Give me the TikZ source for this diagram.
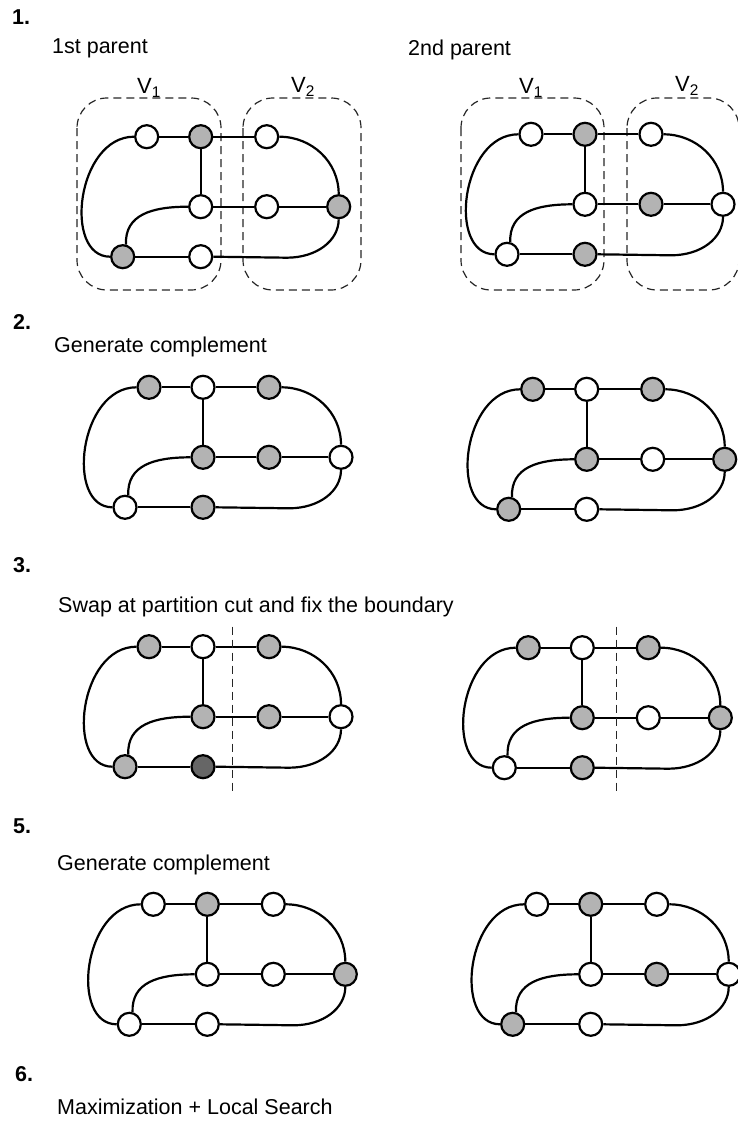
\documentclass[tikz,border=0pt]{standalone}
\usepackage{fontspec}
\setmainfont{Liberation Sans}
\definecolor{lgray}{HTML}{B3B3B3}
\definecolor{dgray}{HTML}{666666}
\tikzset{
  vx/.style={circle, draw=black, line width=2.2pt, minimum size=23pt, inner sep=0pt},
  wn/.style={vx, fill=white},
  gn/.style={vx, fill=lgray},
  dn/.style={vx, fill=dgray},
  edge/.style={line width=2.2pt, draw=black},
  dashbox/.style={dash pattern=on 8pt off 5pt, line width=1.2pt, draw=black!85, rounded corners=30pt},
  cutline/.style={dash pattern=on 8pt off 5pt, line width=1.3pt, draw=black!85},
  lbl/.style={anchor=west, inner sep=0pt, font=\fontsize{21.5}{25}\selectfont},
  num/.style={anchor=west, inner sep=0pt, font=\fontsize{21.5}{25}\selectfont\bfseries},
  vlbl/.style={inner sep=0pt, font=\fontsize{22}{25}\selectfont},
}
\newcommand\gfig[8]{%
  \node[#1] (a) at (0,0) {};
  \node[#2] (b) at (54,0) {};
  \node[#3] (c) at (120,0) {};
  \node[#4] (d) at (54,70) {};
  \node[#5] (e) at (120,70) {};
  \node[#6] (f) at (192,70) {};
  \node[#7] (g) at (-24,120) {};
  \node[#8] (h) at (54,120) {};
  \draw[edge] (a) -- (b);
  \draw[edge] (b) -- (c);
  \draw[edge] (b) -- (d);
  \draw[edge] (d) -- (e);
  \draw[edge] (e) -- (f);
  \draw[edge] (g) -- (h);
  \draw[edge] (a.west) .. controls (-70,0) and (-84,120) .. (g.west);
  \draw[edge] (d.west) .. controls (5,70) and (-22,78) .. (g.75);
  \draw[edge] (c.east) .. controls (165,0) and (192,25) .. (f.north);
  \draw[edge] (h.east) -- (140,121) .. controls (170,121) and (192,104) .. (f.south);
}
\begin{document}
\begin{tikzpicture}[x=1pt,y=-1pt]
\useasboundingbox (0,0) rectangle (738,1122);

% ---------- 1 ----------
\node[num] (n1) at (12,17) {1.};
\node[lbl] (t1a) at (52,48) {1st parent};
\node[lbl] (t1b) at (408,50) {2nd parent};
\draw[dashbox] (77,98) rectangle (221,290);
\draw[dashbox] (243,98) rectangle (361,290);
\node[vlbl] (v1a) at (149,88) {V\textsubscript{1}};
\node[vlbl] (v2a) at (303,87) {V\textsubscript{2}};
\draw[dashbox] (461,98) rectangle (604,290);
\draw[dashbox] (627,98) rectangle (739,290);
\node[vlbl] (v1b) at (531,88) {V\textsubscript{1}};
\node[vlbl] (v2b) at (687,86) {V\textsubscript{2}};
\begin{scope}[shift={(146.7,136.7)}, name prefix=p1l-]
  \gfig{wn}{gn}{wn}{wn}{wn}{gn}{gn}{wn}
\end{scope}
\begin{scope}[shift={(531,134.3)}, name prefix=p1r-]
  \gfig{wn}{gn}{wn}{wn}{gn}{wn}{wn}{gn}
\end{scope}

% ---------- 2 ----------
\node[num] (n2) at (13,322) {2.};
\node[lbl] (t2) at (54,347) {Generate complement};
\begin{scope}[shift={(149,387.3)}, name prefix=p2l-]
  \gfig{gn}{wn}{gn}{gn}{gn}{wn}{wn}{gn}
\end{scope}
\begin{scope}[shift={(532.7,389.3)}, name prefix=p2r-]
  \gfig{gn}{wn}{gn}{gn}{wn}{gn}{gn}{wn}
\end{scope}

% ---------- 3 ----------
\node[num] (n3) at (13,565) {3.};
\node[lbl] (t3) at (58,607) {Swap at partition cut and fix the boundary};
\begin{scope}[shift={(149,646.7)}, name prefix=p3l-]
  \gfig{gn}{wn}{gn}{gn}{gn}{wn}{gn}{dn}
\end{scope}
\begin{scope}[shift={(528.3,647.7)}, name prefix=p3r-]
  \gfig{gn}{wn}{gn}{gn}{wn}{gn}{wn}{gn}
\end{scope}
\draw[cutline] (232.3,626.7) -- (232.3,795);
\draw[cutline] (616.7,626.7) -- (616.7,793);

% ---------- 5 ----------
\node[num] (n5) at (13,826) {5.};
\node[lbl] (t5) at (57,865) {Generate complement};
\begin{scope}[shift={(153.3,904.3)}, name prefix=p5l-]
  \gfig{wn}{gn}{wn}{wn}{wn}{gn}{wn}{wn}
\end{scope}
\begin{scope}[shift={(536.7,904.3)}, name prefix=p5r-]
  \gfig{wn}{gn}{wn}{wn}{gn}{wn}{gn}{wn}
\end{scope}

% ---------- 6 ----------
\node[num] (n6) at (15,1074) {6.};
\node[lbl] (t6) at (57,1107) {Maximization + Local Search};
\end{tikzpicture}
\end{document}
